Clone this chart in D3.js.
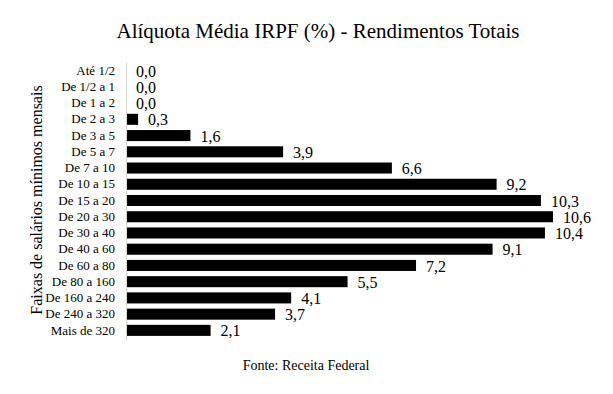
<!DOCTYPE html>
<html>
<head>
<meta charset="utf-8">
<script src="https://cdn.jsdelivr.net/npm/d3@7"></script>
<style>
  body { margin: 0; background: #fff; }
</style>
</head>
<body>
<div id="chart"></div>
<script>
// Data
const faixas = ["Até 1/2", "De 1/2 a 1", "De 1 a 2", "De 2 a 3", "De 3 a 5", "De 5 a 7",
  "De 7 a 10", "De 10 a 15", "De 15 a 20", "De 20 a 30", "De 30 a 40", "De 40 a 60",
  "De 60 a 80", "De 80 a 160", "De 160 a 240", "De 240 a 320", "Mais de 320"];
const aliquotas = [0.0, 0.0, 0.0, 0.3, 1.6, 3.9, 6.6, 9.2, 10.3, 10.6, 10.4, 9.1, 7.2, 5.5, 4.1, 3.7, 2.1];

const data = faixas.map((f, i) => ({ faixa: f, valor: aliquotas[i] }));

const width = 613;
const height = 394;
const x0 = 126;
const serif = "'Liberation Serif'";

const svg = d3.select("#chart")
  .append("svg")
  .attr("width", width)
  .attr("height", height);

const xScale = d3.scaleLinear()
  .domain([0, 10.6])
  .range([x0, 553]);

const yScale = d3.scaleBand()
  .domain(faixas)
  .range([62.5, 338.5])
  .paddingInner(0.32)
  .paddingOuter(0.16);

// Title
svg.append("text")
  .attr("x", 318)
  .attr("y", 38)
  .attr("text-anchor", "middle")
  .style("font-family", serif)
  .style("font-size", "21px")
  .text("Alíquota Média IRPF (%) - Rendimentos Totais");

// Bars
svg.selectAll("rect.bar")
  .data(data)
  .join("rect")
  .attr("class", "bar")
  .attr("x", x0)
  .attr("y", d => yScale(d.faixa))
  .attr("width", d => xScale(d.valor) - x0)
  .attr("height", yScale.bandwidth())
  .attr("fill", "#000");

// Axis line (categories)
const leftAxis = d3.axisLeft(yScale).tickSize(0).tickPadding(11);
const axisG = svg.append("g")
  .attr("transform", `translate(${x0},0)`)
  .call(leftAxis);
axisG.select(".domain").attr("stroke", "#d9d9d9").attr("stroke-width", 1)
  .attr("d", `M0.5,62.5V340.5`);
axisG.selectAll(".tick text")
  .style("font-family", serif)
  .style("font-size", "13px")
  .attr("fill", "#000");

// Value labels
svg.selectAll("text.val")
  .data(data)
  .join("text")
  .attr("class", "val")
  .attr("x", d => xScale(d.valor) + 10)
  .attr("y", d => yScale(d.faixa) + yScale.bandwidth() / 2)
  .attr("dy", "0.38em")
  .style("font-family", serif)
  .style("font-size", "16px")
  .text(d => d3.format(".1f")(d.valor).replace(".", ","));

// Y axis title
svg.append("text")
  .attr("transform", `translate(42,${200}) rotate(-90)`)
  .attr("text-anchor", "middle")
  .style("font-family", serif)
  .style("font-size", "16px")
  .text("Faixas de salários mínimos mensais");

// Source
svg.append("text")
  .attr("x", 306)
  .attr("y", 370)
  .attr("text-anchor", "middle")
  .style("font-family", serif)
  .style("font-size", "14px")
  .text("Fonte: Receita Federal");
</script>
</body>
</html>
